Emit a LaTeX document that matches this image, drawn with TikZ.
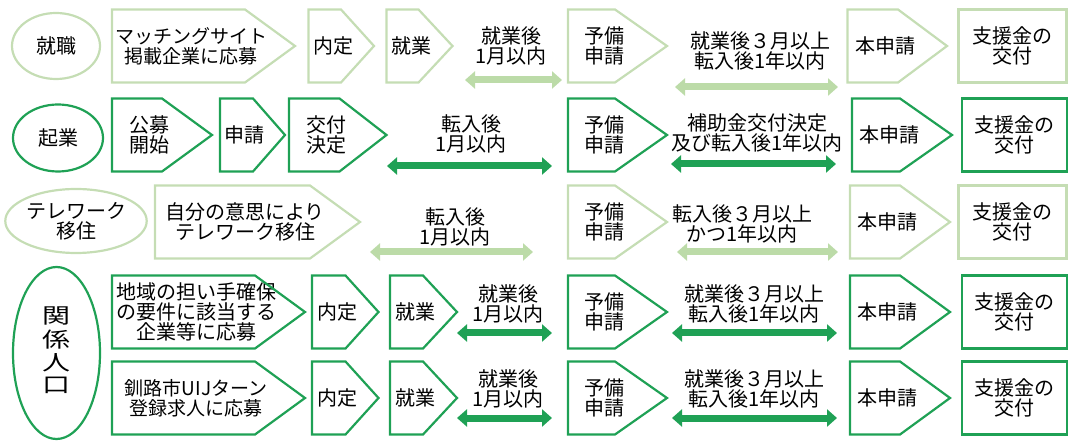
\documentclass[tikz,border=0pt]{standalone}
\usepackage{fontspec}
\setmainfont{Noto Sans CJK JP}
\usetikzlibrary{arrows.meta,shapes.geometric}
\definecolor{lite}{HTML}{C5DDB4}
\definecolor{litearr}{HTML}{BCDBA8}
\definecolor{deep}{HTML}{1FA155}

\begin{document}
\begin{tikzpicture}[x=1pt,y=-1pt,
    every node/.style={font=\fontsize{20}{20}\selectfont, text=black, align=center, inner sep=0pt, outer sep=0pt},
    oval/.style={ellipse, draw=#1, line width=2.2pt},
    body/.style={minimum height=73pt, minimum width=#1},
    gift/.style={draw=#1, line width=2.2pt, minimum height=73pt, minimum width=108pt},
    span/.style={draw=#1, line width=7pt, {Triangle[length=10pt,width=17pt]}-{Triangle[length=10pt,width=17pt]}},
    kana/.style={font=\fontsize{19}{20}\selectfont},
  ]
  \useasboundingbox (0,0) rectangle (1071,446);

  % 就職
  \node[oval=lite, minimum width=88pt, minimum height=66pt] (job) at (56,46) {就職};
  \node[body=158pt, kana] (r1a) at (191,46) {マッチングサイト\\掲載企業に応募};
  \node[body=49pt] (r1b) at (333,46) {内定};
  \node[body=49pt] (r1c) at (411,46) {就業};
  \node (l1a) at (511,46) {就業後\\1月以内};
  \node[body=73pt] (r1d) at (604.5,46) {予備\\申請};
  \node (l1b) at (760,51) {就業後３月以上\\転入後1年以内};
  \node[body=75pt] (r1e) at (885,46) {本申請};
  \node[gift=lite] (r1f) at (1012.5,46) {支援金の\\交付};

  % 起業
  \node[oval=deep, minimum width=90pt, minimum height=67pt] (startup) at (58,138) {起業};
  \node[body=75pt] (r2a) at (149.5,135) {公募\\開始};
  \node[body=49pt] (r2b) at (244.5,135) {申請};
  \node[body=74pt] (r2c) at (326,135) {交付\\決定};
  \node (l2a) at (471,134) {転入後\\1月以内};
  \node[body=73pt] (r2d) at (604.5,135) {予備\\申請};
  \node (l2b) at (757,133) {補助金交付決定\\及び転入後1年以内};
  \node[body=74pt] (r2e) at (889,135) {本申請};
  \node[gift=deep, minimum width=105pt] (r2f) at (1014.5,135) {支援金の\\交付};

  % テレワーク移住
  \node[oval=lite, minimum width=132pt, minimum height=64pt] (remote) at (76,221) {テレワーク\\移住};
  \node[body=180pt] (r3a) at (245,222) {自分の意思により\\テレワーク移住};
  \node (l3a) at (455,227) {転入後\\1月以内};
  \node[body=73pt] (r3b) at (604.5,222) {予備\\申請};
  \node (l3b) at (742,224) {転入後３月以上\\かつ1年以内};
  \node[body=75pt] (r3c) at (887.5,222) {本申請};
  \node[gift=lite] (r3d) at (1012.5,222) {支援金の\\交付};

  % 関係人口
  \node[oval=deep, minimum width=87pt, minimum height=172pt, font=\fontsize{28}{28}\selectfont] (tie) at (56.5,353)
    {\scalebox{1}[0.75]{\begin{tabular}{@{}c@{}}関\\係\\人\\口\end{tabular}}};
  \node[body=168pt] (r4a) at (196,312) {地域の担い手確保\\の要件に該当する\\企業等に応募};
  \node[body=50pt] (r4b) at (337,312) {内定};
  \node[body=50pt] (r4c) at (415,312) {就業};
  \node (l4a) at (508,304) {就業後\\1月以内};
  \node[body=73pt] (r4d) at (604.5,312) {予備\\申請};
  \node (l4b) at (754,304) {就業後３月以上\\転入後1年以内};
  \node[body=75pt] (r4e) at (887.5,312) {本申請};
  \node[gift=deep, minimum width=105pt] (r4f) at (1014.5,312) {支援金の\\交付};

  \node[body=168pt, kana] (r5a) at (196,398) {釧路市UIJターン\\登録求人に応募};
  \node[body=50pt] (r5b) at (337,398) {内定};
  \node[body=50pt] (r5c) at (415,398) {就業};
  \node (l5a) at (508,389) {就業後\\1月以内};
  \node[body=73pt] (r5d) at (604.5,398) {予備\\申請};
  \node (l5b) at (754,389) {就業後３月以上\\転入後1年以内};
  \node[body=75pt] (r5e) at (887.5,398) {本申請};
  \node[gift=deep, minimum width=105pt] (r5f) at (1014.5,398) {支援金の\\交付};

  % pentagon outlines
  \foreach \n/\tp/\c in {r1a/50/lite, r1b/33/lite, r1c/34/lite, r1d/52/lite, r1e/49/lite,
                         r2a/50/deep, r2b/32/deep, r2c/47/deep, r2d/52/deep, r2e/52/deep,
                         r3a/50/lite, r3b/52/lite, r3c/50/lite,
                         r4a/50/deep, r4b/33/deep, r4c/34/deep, r4d/52/deep, r4e/50/deep,
                         r5a/50/deep, r5b/33/deep, r5c/34/deep, r5d/52/deep, r5e/50/deep}
    \draw[\c, line width=2.2pt] (\n.north west) -- ([xshift=-0.5*\tp]\n.north east)
      -- ([xshift=0.5*\tp]\n.east) -- ([xshift=-0.5*\tp]\n.south east) -- (\n.south west) -- cycle;

  % periods
  \foreach \n/\xa/\xb/\y in {a1/465/562/80, b1/675/838/87, a2/387/552/166, b2/671/836/164,
                             a3/370/533/252, b3/677/838/252, a4/457/552/333, b4/672/837/333,
                             a5/457/552/418, b5/672/837/418} {
    \coordinate (\n l) at (\xa,\y);
    \coordinate (\n r) at (\xb,\y);
  }
  \foreach \n/\c in {a1/litearr, b1/litearr, a2/deep, b2/deep, a3/litearr, b3/litearr,
                     a4/deep, b4/deep, a5/deep, b5/deep}
    \draw[span=\c] (\n l) -- (\n r);
\end{tikzpicture}
\end{document}
